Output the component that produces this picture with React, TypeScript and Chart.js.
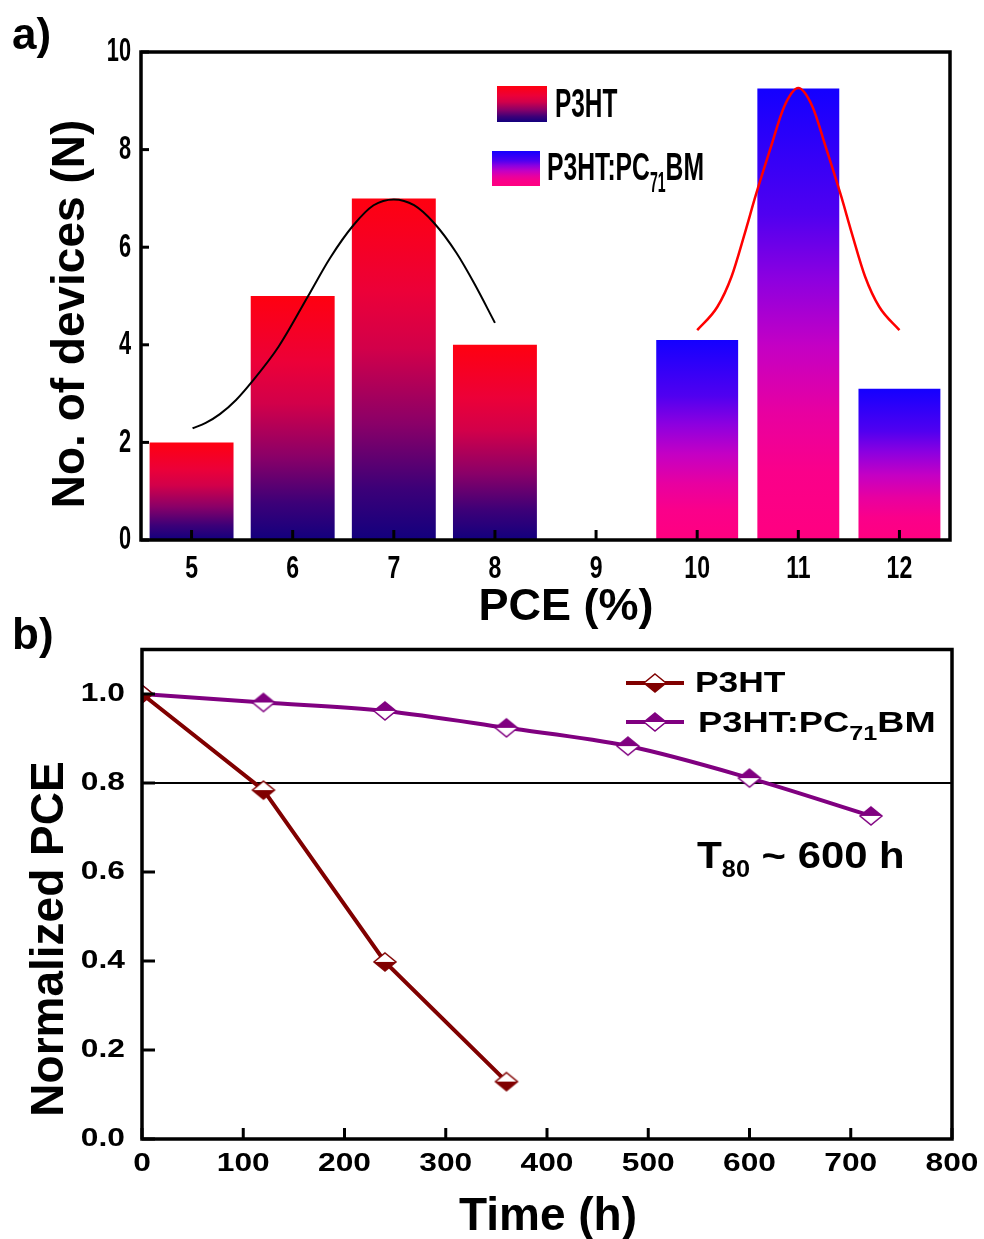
import React, { useEffect, useRef } from 'react';
import { Chart, registerables } from 'chart.js';
Chart.register(...registerables);

// ---------- data (panel a) ----------
const pceCategories = ['5', '6', '7', '8', '9', '10', '11', '12'];
const p3htCounts = [2, 5, 7, 4, null, null, null, null];
const blendCounts = [null, null, null, null, null, 4.1, 9.25, 3.1];
const countTicks = [0, 2, 4, 6, 8, 10];
const p3htFitX = [5.01, 5.14, 5.28, 5.44, 5.6, 5.86, 6.15, 6.37, 6.6, 6.8, 7.0, 7.2, 7.4, 7.62, 7.8, 8.0];
const p3htFitY = [2.29, 2.4, 2.58, 2.87, 3.25, 3.96, 4.99, 5.78, 6.45, 6.86, 6.98, 6.86, 6.49, 5.88, 5.24, 4.45];
const blendFitX = [10.0, 10.2, 10.34, 10.47, 10.58, 10.73, 10.86, 11.0, 11.14, 11.27, 11.42, 11.53, 11.66, 11.8, 12.0];
const blendFitY = [4.3, 4.78, 5.4, 6.28, 7.07, 8.06, 8.88, 9.26, 8.88, 8.06, 7.07, 6.28, 5.4, 4.78, 4.3];

// ---------- data (panel b) ----------
const p3htHours = [0, 120, 240, 360];
const p3htNorm = [1.0, 0.784, 0.398, 0.129];
const blendHours = [0, 120, 240, 360, 480, 600, 720];
const blendNorm = [1.0, 0.981, 0.962, 0.924, 0.883, 0.811, 0.726];
const timeTicks = [0, 100, 200, 300, 400, 500, 600, 700, 800];
const normTicks = [0, 0.2, 0.4, 0.6, 0.8, 1.0];
const t80Level = 0.8;

const p3htStops: [number, string][] = [
  [0, '#ff0010'], [0.27, '#ec0038'], [0.44, '#d2004a'], [0.66, '#8a0068'], [0.85, '#3c0078'], [1, '#12007e'],
];
const blendStops: [number, string][] = [
  [0, '#1400ff'], [0.28, '#5000f0'], [0.42, '#8c00e0'], [0.57, '#c400c4'], [0.72, '#e800a0'], [0.85, '#fa008a'], [1, '#ff0080'],
];

const FONT = '"Liberation Sans", Arial, sans-serif';
const MAROON = '#800000';
const PURPLE = '#800080';

type Seg = { t: string; size: number; sx?: number; dy?: number };

function drawRich(ctx: CanvasRenderingContext2D, x: number, y: number, segs: Seg[], color = '#000') {
  ctx.save();
  ctx.fillStyle = color;
  ctx.textAlign = 'left';
  ctx.textBaseline = 'alphabetic';
  let cx = x;
  for (const s of segs) {
    const sx = s.sx ?? 1;
    ctx.font = `bold ${s.size}px ${FONT}`;
    const w = ctx.measureText(s.t).width;
    ctx.save();
    ctx.translate(cx, y + (s.dy ?? 0));
    ctx.scale(sx, 1);
    ctx.fillText(s.t, 0, 0);
    ctx.restore();
    cx += w * sx;
  }
  ctx.restore();
}

function drawText(
  ctx: CanvasRenderingContext2D, text: string, x: number, y: number, size: number,
  opts: { sx?: number; align?: CanvasTextAlign; baseline?: CanvasTextBaseline; rotate?: number } = {}
) {
  ctx.save();
  ctx.fillStyle = '#000';
  ctx.font = `bold ${size}px ${FONT}`;
  ctx.textAlign = opts.align ?? 'center';
  ctx.textBaseline = opts.baseline ?? 'middle';
  ctx.translate(x, y);
  if (opts.rotate) ctx.rotate(opts.rotate);
  ctx.scale(opts.sx ?? 1, 1);
  ctx.fillText(text, 0, 0);
  ctx.restore();
}

function line(ctx: CanvasRenderingContext2D, x1: number, y1: number, x2: number, y2: number) {
  ctx.beginPath();
  ctx.moveTo(x1, y1);
  ctx.lineTo(x2, y2);
  ctx.stroke();
}

function barGradient(stops: [number, string][]) {
  return (c: any) => {
    const chart = c.chart;
    const { ctx, chartArea, scales } = chart;
    if (!chartArea || c.raw == null) return stops[0][1];
    const top = scales.y.getPixelForValue(c.raw);
    const bot = scales.y.getPixelForValue(0);
    const g = ctx.createLinearGradient(0, top, 0, bot);
    stops.forEach(([o, col]) => g.addColorStop(o, col));
    return g;
  };
}

function makeDiamond(color: string, filledHalf: 'top' | 'bottom') {
  const c = document.createElement('canvas');
  c.width = 26;
  c.height = 22;
  const g = c.getContext('2d')!;
  const cx = 13, cy = 11, w = 11, h = 9;
  const path = () => {
    g.beginPath();
    g.moveTo(cx, cy - h);
    g.lineTo(cx + w, cy);
    g.lineTo(cx, cy + h);
    g.lineTo(cx - w, cy);
    g.closePath();
  };
  path();
  g.fillStyle = '#fff';
  g.fill();
  g.save();
  path();
  g.clip();
  g.fillStyle = color;
  if (filledHalf === 'bottom') g.fillRect(0, cy, 26, 11);
  else g.fillRect(0, 0, 26, cy);
  g.restore();
  path();
  g.strokeStyle = color;
  g.lineWidth = 1.5;
  g.stroke();
  return c;
}

const decorA = {
  id: 'decorA',
  afterDraw(chart: any) {
    const { ctx, chartArea: a, scales } = chart;
    ctx.save();
    ctx.strokeStyle = '#000';
    ctx.lineWidth = 3.5;
    ctx.strokeRect(a.left, a.top, a.right - a.left, a.bottom - a.top);
    ctx.lineWidth = 3;
    countTicks.forEach((v) => {
      const y = scales.y.getPixelForValue(v);
      line(ctx, a.left, y, a.left + 8, y);
      drawText(ctx, String(v), 131, y, 34, { sx: 0.64, align: 'right' });
    });
    pceCategories.forEach((lab, i) => {
      const x = scales.x.getPixelForValue(i);
      line(ctx, x, a.bottom, x, a.bottom - 10);
      drawText(ctx, lab, x, 569, 32, { sx: 0.72 });
    });
    // titles
    drawText(ctx, 'PCE (%)', 566, 620, 45, { baseline: 'alphabetic' });
    drawText(ctx, 'No. of devices (N)', 84, 314, 46, { baseline: 'alphabetic', rotate: -Math.PI / 2 });
    drawText(ctx, 'a)', 12, 49, 44, { align: 'left', baseline: 'alphabetic' });
    // legend
    const sw = (x: number, y: number, w: number, h: number, stops: [number, string][]) => {
      const g = ctx.createLinearGradient(0, y, 0, y + h);
      stops.forEach(([o, c]) => g.addColorStop(o, c));
      ctx.fillStyle = g;
      ctx.fillRect(x, y, w, h);
    };
    sw(497, 86, 50, 36, p3htStops);
    sw(492, 151, 48, 35, blendStops);
    drawRich(ctx, 555, 117, [{ t: 'P3HT', size: 40, sx: 0.61 }]);
    drawRich(ctx, 547, 180, [
      { t: 'P3HT:PC', size: 38, sx: 0.65 },
      { t: '71', size: 30, sx: 0.47, dy: 12 },
      { t: 'BM', size: 38, sx: 0.65 },
    ]);
    ctx.restore();
  },
};

const p3htMarker = typeof document !== 'undefined' ? makeDiamond(MAROON, 'bottom') : null;
const blendMarker = typeof document !== 'undefined' ? makeDiamond(PURPLE, 'top') : null;

const OFF_B = 600;
const decorB = {
  id: 'decorB',
  afterDraw(chart: any) {
    const { ctx, chartArea: a, scales } = chart;
    ctx.save();
    ctx.strokeStyle = '#000';
    ctx.lineWidth = 3.5;
    ctx.strokeRect(a.left, a.top, a.right - a.left, a.bottom - a.top);
    ctx.lineWidth = 3;
    normTicks.forEach((v) => {
      const y = scales.y.getPixelForValue(v);
      line(ctx, a.left, y, a.left + 13, y);
      drawText(ctx, v.toFixed(1), 125, y, 25, { sx: 1.27, align: 'right' });
    });
    timeTicks.forEach((v) => {
      const x = scales.x.getPixelForValue(v);
      line(ctx, x, a.bottom, x, a.bottom - 11);
      drawText(ctx, String(v), x, 1164 - OFF_B, 25, { sx: 1.27 });
    });
    drawText(ctx, 'Time (h)', 548, 1230 - OFF_B, 46, { baseline: 'alphabetic' });
    drawText(ctx, 'Normalized PCE', 63, 939 - OFF_B, 46, { baseline: 'alphabetic', rotate: -Math.PI / 2 });
    drawText(ctx, 'b)', 12, 649 - OFF_B, 44, { align: 'left', baseline: 'alphabetic' });
    // legend
    ctx.lineWidth = 4;
    ctx.strokeStyle = MAROON;
    line(ctx, 626, 683 - OFF_B, 684, 683 - OFF_B);
    ctx.strokeStyle = PURPLE;
    line(ctx, 626, 722 - OFF_B, 684, 722 - OFF_B);
    if (p3htMarker) ctx.drawImage(p3htMarker, 655 - 13, 683 - OFF_B - 11);
    if (blendMarker) ctx.drawImage(blendMarker, 655 - 13, 722 - OFF_B - 11);
    drawRich(ctx, 695, 692 - OFF_B, [{ t: 'P3HT', size: 30, sx: 1.18 }]);
    drawRich(ctx, 698, 732 - OFF_B, [
      { t: 'P3HT:PC', size: 30, sx: 1.21 },
      { t: '71', size: 21, sx: 1.2, dy: 8 },
      { t: 'BM', size: 30, sx: 1.25 },
    ]);
    drawRich(ctx, 697, 868 - OFF_B, [
      { t: 'T', size: 37, sx: 1.1 },
      { t: '80', size: 23, sx: 1.1, dy: 9 },
      { t: ' ~ 600 h', size: 37, sx: 1.13 },
    ]);
    ctx.restore();
  },
};

export default function App() {
  const refA = useRef<HTMLCanvasElement>(null);
  const refB = useRef<HTMLCanvasElement>(null);

  useEffect(() => {
    const chartA = new Chart(refA.current!, {
      type: 'bar',
      data: {
        labels: pceCategories,
        datasets: [
          {
            type: 'line',
            label: 'P3HT fit',
            data: p3htFitX.map((x, i) => ({ x, y: p3htFitY[i] })),
            xAxisID: 'x2',
            yAxisID: 'y',
            borderColor: '#000',
            borderWidth: 2,
            pointRadius: 0,
            cubicInterpolationMode: 'monotone',
            order: 0,
          } as any,
          {
            type: 'line',
            label: 'P3HT:PC71BM fit',
            data: blendFitX.map((x, i) => ({ x, y: blendFitY[i] })),
            xAxisID: 'x2',
            yAxisID: 'y',
            borderColor: '#ff0000',
            borderWidth: 2.5,
            pointRadius: 0,
            cubicInterpolationMode: 'monotone',
            order: 0,
          } as any,
          {
            type: 'bar',
            label: 'P3HT',
            data: p3htCounts,
            backgroundColor: barGradient(p3htStops),
            borderWidth: 0,
            barPercentage: 0.83,
            categoryPercentage: 1,
            grouped: false,
            order: 1,
          } as any,
          {
            type: 'bar',
            label: 'P3HT:PC71BM',
            data: blendCounts,
            backgroundColor: barGradient(blendStops),
            borderWidth: 0,
            barPercentage: 0.81,
            categoryPercentage: 1,
            grouped: false,
            order: 1,
          } as any,
        ],
      },
      options: {
        responsive: false,
        maintainAspectRatio: false,
        animation: false,
        devicePixelRatio: 1,
        layout: { padding: { left: 141, right: 34, top: 52, bottom: 100 } },
        plugins: { legend: { display: false }, tooltip: { enabled: false } },
        scales: {
          x: { type: 'category', offset: true, display: false },
          x2: { type: 'linear', min: 4.5, max: 12.5, offset: false, display: false },
          y: { type: 'linear', min: 0, max: 10, display: false },
        },
      } as any,
      plugins: [decorA],
    });

    const chartB = new Chart(refB.current!, {
      type: 'line',
      data: {
        datasets: [
          {
            label: 'P3HT',
            data: p3htHours.map((x, i) => ({ x, y: p3htNorm[i] })),
            borderColor: MAROON,
            borderWidth: 4,
            tension: 0,
            pointStyle: p3htMarker as any,
            pointRadius: 10,
          },
          {
            label: 'P3HT:PC71BM',
            data: blendHours.map((x, i) => ({ x, y: blendNorm[i] })),
            borderColor: PURPLE,
            borderWidth: 4,
            cubicInterpolationMode: 'monotone',
            pointStyle: blendMarker as any,
            pointRadius: 10,
          },
          {
            label: 'T80',
            data: [
              { x: timeTicks[0], y: t80Level },
              { x: timeTicks[timeTicks.length - 1], y: t80Level },
            ],
            borderColor: '#000',
            borderWidth: 2,
            pointRadius: 0,
          },
        ],
      },
      options: {
        responsive: false,
        maintainAspectRatio: false,
        animation: false,
        devicePixelRatio: 1,
        layout: { padding: { left: 142, right: 32, top: 49.5, bottom: 100 } },
        plugins: { legend: { display: false }, tooltip: { enabled: false } },
        scales: {
          x: { type: 'linear', min: 0, max: 800, display: false },
          y: { type: 'linear', min: 0, max: 1.1, display: false },
        },
      } as any,
      plugins: [decorB],
    });

    return () => {
      chartA.destroy();
      chartB.destroy();
    };
  }, []);

  return (
    <div style={{ position: 'absolute', left: 0, top: 0, width: 984, height: 1239, background: '#fff' }}>
      <canvas
        ref={refA}
        width={984}
        height={640}
        style={{ position: 'absolute', left: 0, top: 0, width: 984, height: 640, display: 'block' }}
      />
      <canvas
        ref={refB}
        width={984}
        height={639}
        style={{ position: 'absolute', left: 0, top: 600, width: 984, height: 639, display: 'block' }}
      />
    </div>
  );
}
